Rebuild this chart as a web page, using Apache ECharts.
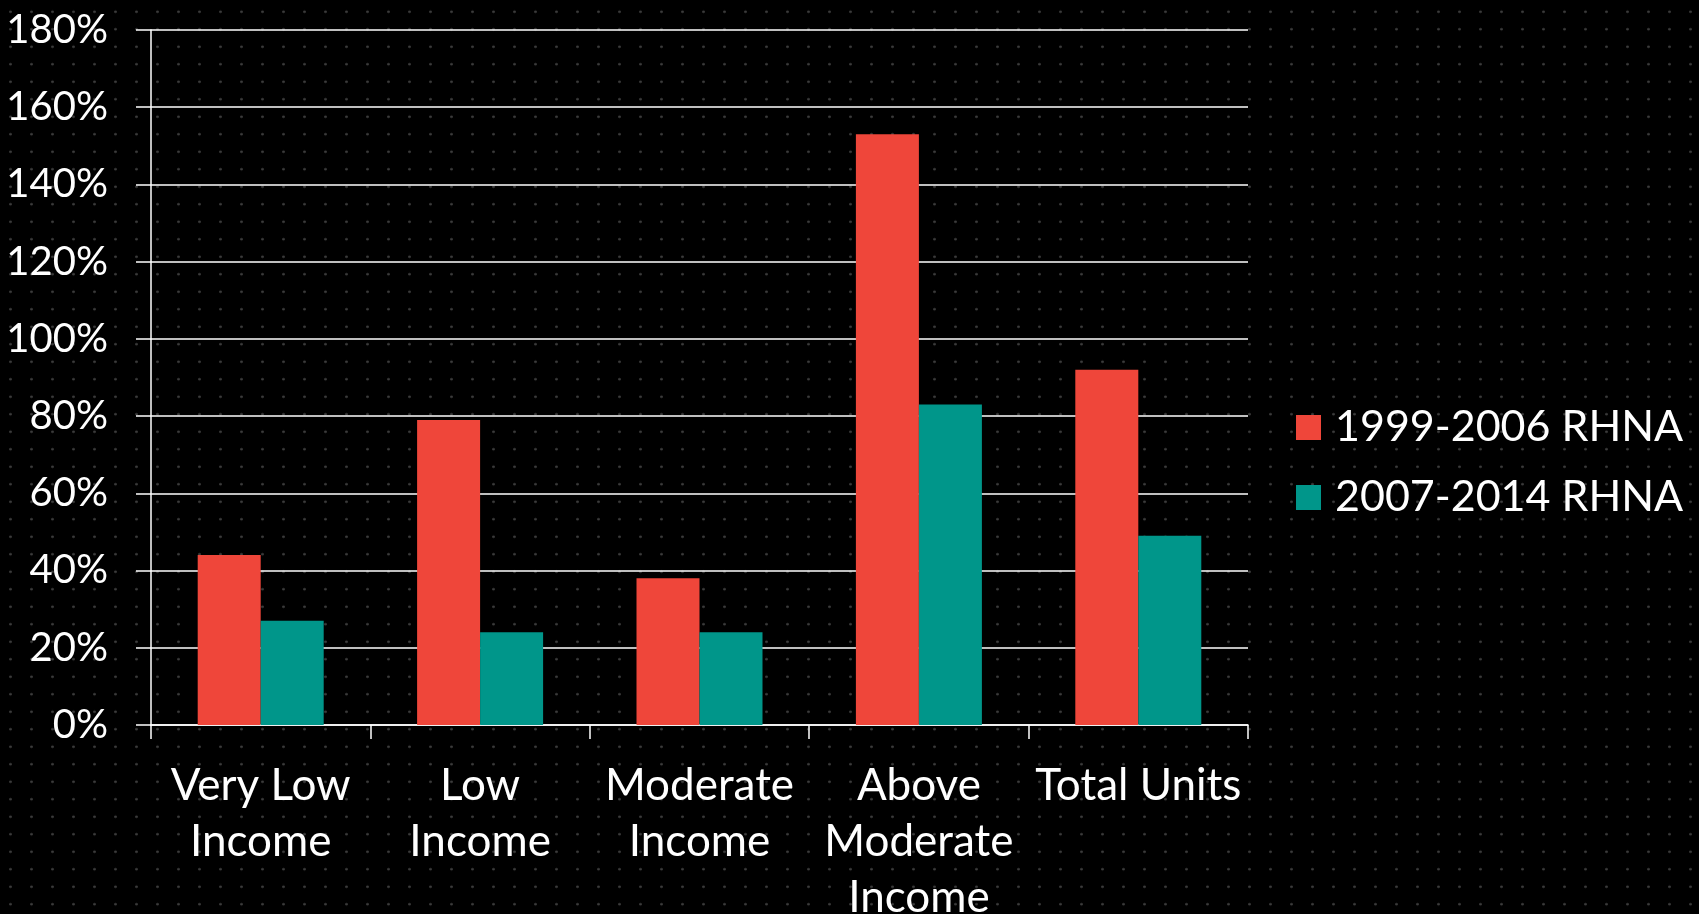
<!DOCTYPE html>
<html>
<head>
<meta charset="utf-8">
<script src="https://cdn.jsdelivr.net/npm/echarts@6/dist/echarts.min.js"></script>
<style>
html,body{margin:0;padding:0;width:1699px;height:914px;overflow:hidden;
background-color:#000;
background-image:radial-gradient(circle at center,#3c3c3c 0,#3c3c3c 1px,transparent 1.6px);
background-size:21px 17.5px;background-position:0px 3px;}
#chart{width:1699px;height:914px;}
</style>
</head>
<body>
<div id="chart"></div>
<script>
const categories = ['Very Low\nIncome', 'Low\nIncome', 'Moderate\nIncome', 'Above\nModerate\nIncome', 'Total Units'];
const seriesNames = ['1999-2006 RHNA', '2007-2014 RHNA'];
const rhna1999 = [44, 79, 38, 153, 92];
const rhna2007 = [27, 24, 24, 83, 49];
const yTicks = { min: 0, max: 180, interval: 20 };

const FONT = 'Lato, "Open Sans", sans-serif';
const chart = echarts.init(document.getElementById('chart'));
chart.setOption({
  backgroundColor: 'transparent',
  animation: false,
  textStyle: { fontFamily: FONT },
  grid: { left: 151, right: 451, top: 30, bottom: 189, containLabel: false, outerBoundsMode: 'none' },
  legend: {
    orient: 'vertical',
    left: 1296, top: 406, padding: 0,
    itemWidth: 25, itemHeight: 25, itemGap: 27,
    icon: 'rect',
    textStyle: { color: '#fff', fontSize: 43, fontFamily: FONT, padding: [0, 0, 0, 9] },
    data: seriesNames
  },
  xAxis: {
    type: 'category',
    data: categories,
    axisLine: { show: true, lineStyle: { color: '#fff', width: 1.5 } },
    axisTick: { show: true, length: 14, lineStyle: { color: '#fff', width: 1.5 } },
    axisLabel: { color: '#fff', fontSize: 44, lineHeight: 56, margin: 33, interval: 0, fontFamily: FONT }
  },
  yAxis: {
    type: 'value',
    min: yTicks.min, max: yTicks.max, interval: yTicks.interval,
    axisLine: { show: true, lineStyle: { color: '#fff', width: 1.5 } },
    axisTick: { show: true, length: 15, lineStyle: { color: '#fff', width: 1.5 } },
    splitLine: { show: true, lineStyle: { color: '#fff', width: 1.5 } },
    axisLabel: { color: '#fff', fontSize: 40, margin: 43, formatter: '{value}%', fontFamily: FONT }
  },
  series: [
    { name: seriesNames[0], type: 'bar', data: rhna1999, barWidth: 63, barGap: '0%',
      itemStyle: { color: '#EF463A' } },
    { name: seriesNames[1], type: 'bar', data: rhna2007, barWidth: 63, barGap: '0%',
      itemStyle: { color: '#00968A' } }
  ]
});
</script>
</body>
</html>
